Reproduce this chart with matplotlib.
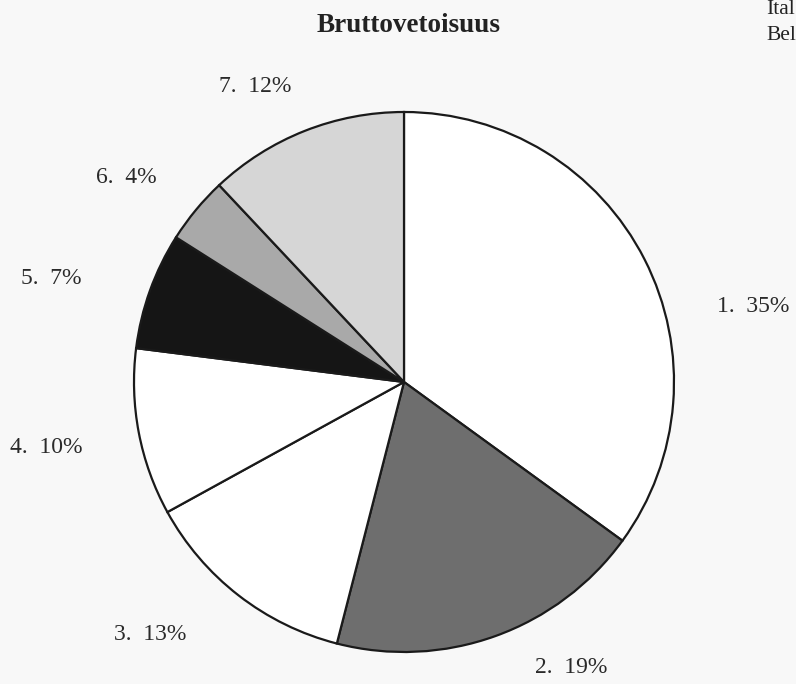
import matplotlib
matplotlib.use("Agg")
from matplotlib import pyplot as plt

# data
labels = ["1.  35%", "2.  19%", "3.  13%", "4.  10%", "5.  7%", "6.  4%", "7.  12%"]
shares = [35, 19, 13, 10, 7, 4, 12]
fills = ["#ffffff", "#6e6e6e", "#ffffff", "#ffffff", "#151515", "#a9a9a9", "#d6d6d6"]

# label placement (pie radius = 1)
label_pos = [(1.293, 0.278), (0.619, -1.059), (-0.941, -0.937), (-1.326, -0.244),
             (-1.307, 0.385), (-1.030, 0.756), (-0.552, 1.093)]

plt.rcParams['font.family'] = ['Liberation Serif', 'DejaVu Serif']

W, H = 796, 684
cx, cy, r = 404, 382, 270

fig = plt.figure(figsize=(W / 100, H / 100), dpi=100, facecolor="#f8f8f8")
ax = fig.add_axes([(cx - r) / W, (H - cy - r) / H, 2 * r / W, 2 * r / H])
ax.set_facecolor("none")

wedges, texts = ax.pie(shares, labels=labels, colors=fills, startangle=90,
                       counterclock=False, radius=1,
                       wedgeprops=dict(edgecolor="#1a1a1a", linewidth=1.6),
                       textprops=dict(fontsize=17, color="#2a2a2a"))
for t, (x, y) in zip(texts, label_pos):
    t.set_position((x, y))
    t.set_ha("center")
    t.set_va("center")

ax.set_xlim(-1, 1)
ax.set_ylim(-1, 1)
ax.axis("off")

fig.text(409 / W, 1 - 25 / H, "Bruttovetoisuus", ha="center", va="center",
         fontsize=19.5, fontweight="bold", color="#222222")
# fragments of a neighbouring legend, cut by the page edge
fig.text(766 / W, 1 - 9 / H, "Ital", ha="left", va="center", fontsize=15.5, color="#222222")
fig.text(766 / W, 1 - 36 / H, "Bel", ha="left", va="center", fontsize=15.5, color="#222222")

fig.savefig("out.png", dpi=100, facecolor=fig.get_facecolor())
